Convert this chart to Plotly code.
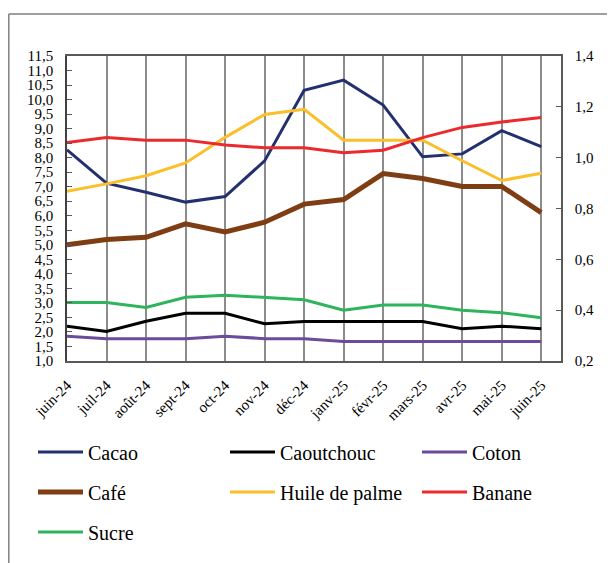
import plotly.graph_objects as go

months = ["juin-24", "juil-24", "août-24", "sept-24", "oct-24", "nov-24", "déc-24",
          "janv-25", "févr-25", "mars-25", "avr-25", "mai-25", "juin-25"]

# Left axis series
cacao = [8.27, 7.12, 6.81, 6.47, 6.66, 7.89, 10.32, 10.67, 9.81, 8.03, 8.13, 8.93, 8.38]
caoutchouc = [2.20, 2.02, 2.37, 2.64, 2.64, 2.28, 2.36, 2.36, 2.36, 2.36, 2.11, 2.20, 2.11]
coton = [1.85, 1.77, 1.77, 1.77, 1.85, 1.77, 1.77, 1.67, 1.67, 1.67, 1.67, 1.67, 1.67]
cafe = [5.00, 5.18, 5.26, 5.72, 5.44, 5.78, 6.40, 6.56, 7.45, 7.28, 7.01, 7.01, 6.11]

# Right axis series
huile_palme = [0.868, 0.897, 0.929, 0.979, 1.080, 1.170, 1.190, 1.069, 1.069, 1.069, 0.988, 0.910, 0.939]
banane = [1.060, 1.079, 1.069, 1.069, 1.050, 1.039, 1.039, 1.019, 1.029, 1.079, 1.119, 1.140, 1.158]
sucre = [0.430, 0.430, 0.411, 0.451, 0.459, 0.451, 0.441, 0.400, 0.420, 0.420, 0.400, 0.390, 0.370]

xs = list(range(len(months)))

FONT = "Liberation Serif"
W, H = 615, 563
OFF = 8  # page body margin offset
# target plot area in page pixels: x 67..561, y 56..361
ML = 67 - OFF
MT = 56 - OFF
MR = W - (561 - OFF)
MB = H - (361 - OFF)
PW, PH = W - ML - MR, H - MT - MB

def px_x(p):
    return (p - OFF - ML) / PW

def px_y(p):
    return (H - MB - (p - OFF)) / PH

ITEMW = 45
ENTRYW = 132

fig = go.Figure()

def add(name, y, color, width, axis, legend, lw=ENTRYW):
    fig.add_trace(go.Scatter(
        x=xs, y=y, name=name, mode="lines",
        line=dict(color=color, width=width),
        yaxis=axis, legend=legend, legendwidth=lw,
    ))

add("Cacao", cacao, "#22306e", 3, "y", "legend")
add("Caoutchouc", caoutchouc, "#000000", 3, "y", "legend")
add("Coton", coton, "#6b4c9a", 3, "y", "legend", 70)
add("Café", cafe, "#7f3d13", 5, "y", "legend2")
add("Huile de palme", huile_palme, "#fbbf2a", 3, "y2", "legend2")
add("Banane", banane, "#ec2a2e", 3, "y2", "legend2", 70)
add("Sucre", sucre, "#2db45c", 3, "y2", "legend3")

legend_common = dict(
    orientation="h", xanchor="left", yanchor="middle",
    x=px_x(33), font=dict(family=FONT, size=20, color="#000"),
    itemwidth=ITEMW, entrywidthmode="pixels",
    bgcolor="rgba(0,0,0,0)", itemclick=False,
)

fig.update_layout(
    width=W, height=H,
    margin=dict(l=ML, r=MR, t=MT, b=MB, pad=0, autoexpand=False),
    paper_bgcolor="white", plot_bgcolor="white",
    separators=", ",
    showlegend=True,
    legend=dict(**legend_common, y=px_y(452)),
    legend2=dict(**legend_common, y=px_y(492)),
    legend3=dict(**legend_common, y=px_y(532)),
    xaxis=dict(
        range=[0, 12.5], automargin=False,
        tickmode="array", tickvals=xs, ticktext=months,
        tickangle=-45, ticks="",
        tickfont=dict(family=FONT, size=15, color="#000"),
        ticklabelstandoff=8,
        showgrid=True, gridcolor="#8c8c8c", gridwidth=1.5,
        showline=True, linecolor="#595959", linewidth=1.5, mirror=True,
        zeroline=False,
    ),
    yaxis=dict(
        range=[1.0, 11.5], automargin=False,
        tickmode="linear", tick0=1.0, dtick=0.5,
        tickformat=".1f",
        ticks="inside", ticklen=5, tickcolor="#595959", tickwidth=1,
        tickfont=dict(family=FONT, size=15, color="#000"),
        ticklabelstandoff=9,
        showgrid=False, zeroline=False,
        showline=True, linecolor="#404040", linewidth=1.5,
    ),
    yaxis2=dict(
        overlaying="y", side="right", automargin=False,
        range=[0.2, 1.4], tickmode="linear", tick0=0.2, dtick=0.2,
        tickformat=".1f",
        ticks="inside", ticklen=5, tickcolor="#595959", tickwidth=1,
        tickfont=dict(family=FONT, size=15, color="#000"),
        ticklabelstandoff=9,
        showgrid=False, zeroline=False,
        showline=True, linecolor="#595959", linewidth=1.5,
    ),
    shapes=[
        dict(type="line", xref="paper", yref="paper",
             x0=px_x(8.8), x1=px_x(W + 20), y0=px_y(14), y1=px_y(14),
             line=dict(color="#7f7f7f", width=1.5)),
        dict(type="line", xref="paper", yref="paper",
             x0=px_x(8.8), x1=px_x(8.8), y0=px_y(14), y1=px_y(H + 20),
             line=dict(color="#7f7f7f", width=1.5)),
    ],
)

fig.write_html("out.html")
